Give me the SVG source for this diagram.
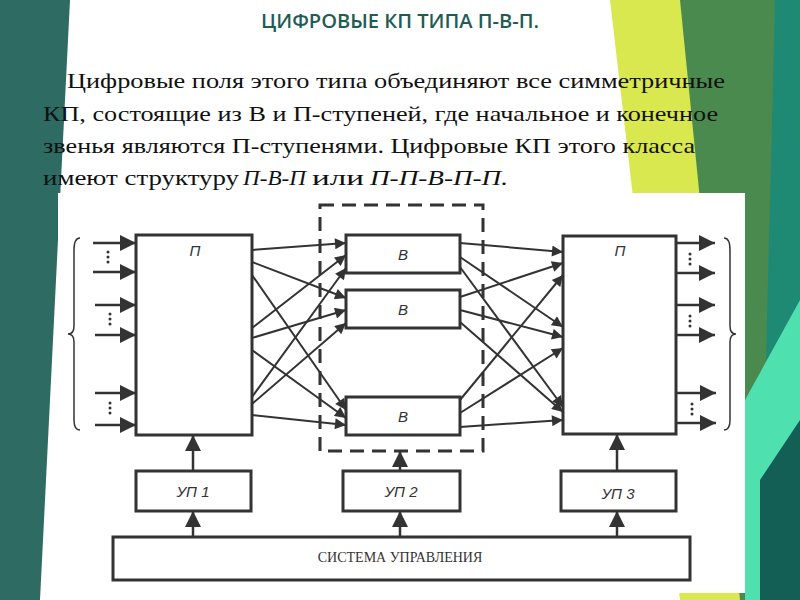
<svg xmlns="http://www.w3.org/2000/svg" width="800" height="600" viewBox="0 0 800 600">
<defs>
<marker id="ah" viewBox="0 0 10 10" refX="10" refY="5" markerWidth="13" markerHeight="11" markerUnits="userSpaceOnUse" orient="auto"><path d="M0,0 L10,5 L0,10 z" fill="#333"/></marker>
<marker id="ab" viewBox="0 0 10 10" refX="10" refY="5" markerWidth="18" markerHeight="16" markerUnits="userSpaceOnUse" orient="auto"><path d="M0,0 L10,5 L0,10 z" fill="#333"/></marker>
</defs>
<style>
.box{fill:#fff;stroke:#333;stroke-width:3}
.ln{stroke:#333;stroke-width:2;fill:none;marker-end:url(#ah)}
.io{stroke:#333;stroke-width:2.5;fill:none;marker-end:url(#ab)}
.lbl{font-family:"Liberation Sans",Arial,sans-serif;font-style:italic;font-size:15px;fill:#333;text-anchor:middle}
.p{font-family:"Liberation Serif","Times New Roman","DejaVu Serif",serif;font-size:22px;fill:#111}
.dot{fill:#333}
</style>
<rect width="800" height="600" fill="#fff"/>
<polygon points="0,0 70,0 40,600 0,600" fill="#2d6b63"/>
<polygon points="610,0 700,0 760,600 680,600" fill="#d9e84f"/>
<polygon points="680,0 780,0 780,600 740,600" fill="#4b8a4f"/>
<polygon points="775,0 800,0 800,600 760,600" fill="#1f8a74"/>
<polygon points="745,400 800,300 800,600 745,600" fill="#4fe0b0"/>
<polygon points="760,480 800,420 800,600 760,600" fill="#135e55"/>
<text x="400" y="28" text-anchor="middle" font-family="Open Sans,sans-serif" font-weight="600" font-size="19" fill="#1f5c55" textLength="278" lengthAdjust="spacingAndGlyphs">ЦИФРОВЫЕ КП ТИПА П-В-П.</text>
<text class="p" x="67" y="88" textLength="658" lengthAdjust="spacingAndGlyphs">Цифровые поля этого типа объединяют все симметричные</text>
<text class="p" x="43" y="121" textLength="675" lengthAdjust="spacingAndGlyphs">КП, состоящие из В и П-ступеней, где начальное и конечное</text>
<text class="p" x="43" y="153" textLength="652" lengthAdjust="spacingAndGlyphs">звенья являются П-ступенями. Цифровые КП этого класса</text>
<text class="p" x="43" y="185" textLength="196" lengthAdjust="spacingAndGlyphs">имеют структуру</text>
<text class="p" x="243" y="185" font-style="italic" textLength="63" lengthAdjust="spacingAndGlyphs">П-В-П</text>
<text class="p" x="312" y="185" textLength="52" lengthAdjust="spacingAndGlyphs">или</text>
<text class="p" x="370" y="185" font-style="italic" textLength="138" lengthAdjust="spacingAndGlyphs">П-П-В-П-П.</text>
<rect x="58" y="193" width="687" height="400" fill="#fff"/>
<rect x="320" y="205" width="163" height="246" fill="none" stroke="#333" stroke-width="3" stroke-dasharray="14,8"/>
<g id="P1"><rect class="box" x="136" y="235" width="116" height="200"/><text class="lbl" x="195" y="256">П</text></g>
<g id="B1"><rect class="box" x="346" y="235" width="114" height="38"/><text class="lbl" x="403" y="260">В</text></g>
<g id="B2"><rect class="box" x="346" y="290" width="114" height="38"/><text class="lbl" x="403" y="315">В</text></g>
<g id="B3"><rect class="box" x="346" y="397" width="114" height="38"/><text class="lbl" x="403" y="422">В</text></g>
<g id="P2"><rect class="box" x="563" y="236" width="113" height="198"/><text class="lbl" x="620" y="256">П</text></g>
<g id="UP1"><rect class="box" x="136" y="471" width="115" height="40"/><text class="lbl" x="193" y="497">УП 1</text></g>
<g id="UP2"><rect class="box" x="343" y="471" width="117" height="40"/><text class="lbl" x="401" y="497">УП 2</text></g>
<g id="UP3"><rect class="box" x="561" y="471" width="115" height="40"/><text class="lbl" x="618" y="499">УП 3</text></g>
<g id="SU"><rect class="box" x="113" y="537" width="577" height="43"/><text x="400" y="562" text-anchor="middle" font-family="Liberation Serif,'Times New Roman',serif" font-size="14" fill="#333">СИСТЕМА УПРАВЛЕНИЯ</text></g>
<g id="connectors">
<line class="io" x1="93" y1="243" x2="136" y2="243"/><line class="io" x1="93" y1="272" x2="136" y2="272"/>
<line class="io" x1="95" y1="305" x2="136" y2="305"/><line class="io" x1="95" y1="335" x2="136" y2="335"/>
<line class="io" x1="95" y1="393" x2="136" y2="393"/><line class="io" x1="95" y1="425" x2="136" y2="425"/>
<line class="io" x1="676" y1="243" x2="715" y2="243"/><line class="io" x1="676" y1="273" x2="715" y2="273"/>
<line class="io" x1="676" y1="305" x2="715" y2="305"/><line class="io" x1="676" y1="335" x2="715" y2="335"/>
<line class="io" x1="676" y1="393" x2="716" y2="393"/><line class="io" x1="676" y1="423" x2="716" y2="423"/>
<path d="M80,238 Q74,238 74,250 V326 Q74,334 68,334 Q74,334 74,342 V420 Q74,430 80,430" fill="none" stroke="#333" stroke-width="1.5"/>
<path d="M724,238 Q730,238 730,250 V326 Q730,334 736,334 Q730,334 730,342 V420 Q730,430 724,430" fill="none" stroke="#333" stroke-width="1.5"/>
<g class="dot">
<circle cx="108" cy="252" r="1.5"/><circle cx="108" cy="257" r="1.5"/><circle cx="108" cy="262" r="1.5"/>
<circle cx="110" cy="314" r="1.5"/><circle cx="110" cy="319" r="1.5"/><circle cx="110" cy="324" r="1.5"/>
<circle cx="110" cy="403" r="1.5"/><circle cx="110" cy="408" r="1.5"/><circle cx="110" cy="413" r="1.5"/>
<circle cx="690" cy="254" r="1.5"/><circle cx="690" cy="259" r="1.5"/><circle cx="690" cy="264" r="1.5"/>
<circle cx="690" cy="316" r="1.5"/><circle cx="690" cy="321" r="1.5"/><circle cx="690" cy="326" r="1.5"/>
<circle cx="692" cy="404" r="1.5"/><circle cx="692" cy="409" r="1.5"/><circle cx="692" cy="414" r="1.5"/>
</g>
<line class="ln" x1="252" y1="250" x2="346" y2="243"/>
<line class="ln" x1="252" y1="262" x2="346" y2="298"/>
<line class="ln" x1="252" y1="275" x2="346" y2="410"/>
<line class="ln" x1="252" y1="328" x2="346" y2="255"/>
<line class="ln" x1="252" y1="338" x2="346" y2="310"/>
<line class="ln" x1="252" y1="350" x2="346" y2="418"/>
<line class="ln" x1="252" y1="397" x2="346" y2="268"/>
<line class="ln" x1="252" y1="404" x2="346" y2="323"/>
<line class="ln" x1="252" y1="415" x2="346" y2="425"/>
<line class="ln" x1="460" y1="243" x2="563" y2="252"/>
<line class="ln" x1="460" y1="257" x2="563" y2="327"/>
<line class="ln" x1="460" y1="267" x2="563" y2="407"/>
<line class="ln" x1="460" y1="297" x2="563" y2="263"/>
<line class="ln" x1="460" y1="310" x2="563" y2="337"/>
<line class="ln" x1="460" y1="322" x2="563" y2="412"/>
<line class="ln" x1="460" y1="400" x2="563" y2="275"/>
<line class="ln" x1="460" y1="413" x2="563" y2="348"/>
<line class="ln" x1="460" y1="427" x2="563" y2="420"/>
<line class="io" x1="193" y1="537" x2="193" y2="511"/><line class="io" x1="193" y1="471" x2="193" y2="435"/>
<line class="io" x1="400" y1="537" x2="400" y2="511"/><line class="io" x1="400" y1="471" x2="400" y2="451"/>
<line class="io" x1="617" y1="537" x2="617" y2="511"/><line class="io" x1="617" y1="471" x2="617" y2="434"/>
</g>
</svg>
